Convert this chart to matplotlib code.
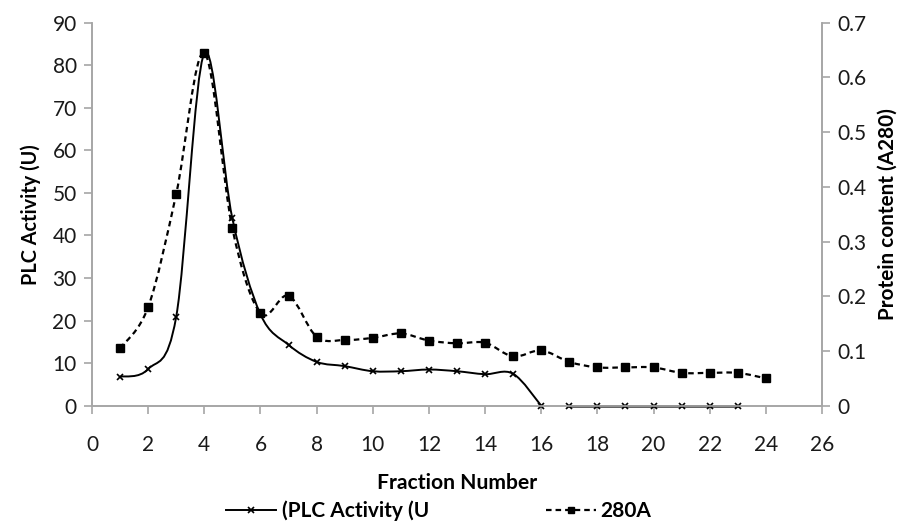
import matplotlib
matplotlib.use("agg")
import matplotlib.pyplot as plt
from matplotlib.path import Path
from matplotlib.patches import PathPatch
from matplotlib.lines import Line2D
import numpy as np

plt.rcParams['font.family'] = ['Lato', 'DejaVu Sans']

fractions = [1, 2, 3, 4, 5, 6, 7, 8, 9, 10, 11, 12, 13, 14, 15, 16, 17, 18, 19, 20, 21, 22, 23, 24]
plc_a = [6.8, 8.6, 20.9, 82.8, 44.0, 21.5, 14.3, 10.3, 9.3, 8.1, 8.1, 8.5, 8.1, 7.4, 7.5, 0.0]
plc_b = [0, 0, 0, 0, 0, 0, 0]
a280 = [0.105, 0.180, 0.387, 0.645, 0.324, 0.169, 0.201, 0.126, 0.120, 0.124, 0.132, 0.119,
        0.114, 0.115, 0.090, 0.101, 0.080, 0.070, 0.070, 0.070, 0.060, 0.060, 0.060, 0.050]

x_a = fractions[:16]
x_b = fractions[16:23]


def smooth_path(xs, ys):
    # Excel-like smoothed line: Catmull-Rom as cubic bezier segments
    p = np.column_stack([xs, ys]).astype(float)
    n = len(p)
    verts = [p[0]]
    codes = [Path.MOVETO]
    for i in range(n - 1):
        p0 = p[i - 1] if i > 0 else p[i]
        p3 = p[i + 2] if i + 2 < n else p[i + 1]
        c1 = p[i] + (p[i + 1] - p0) / 6
        c2 = p[i + 1] - (p3 - p[i]) / 6
        verts += [c1, c2, p[i + 1]]
        codes += [Path.CURVE4] * 3
    return Path(verts, codes)


fig = plt.figure(figsize=(9.07, 5.21), dpi=100)
ax = fig.add_axes([0.1014, 0.2213, 0.8049, 0.7352])
ax2 = ax.twinx()

grey = '#a6a6a6'
dash = (0, (2.5, 1.8))

ax.add_patch(PathPatch(smooth_path(x_a, plc_a), fill=False, edgecolor='black', lw=1.4,
                       clip_on=False, zorder=3))
ax.plot(x_a, plc_a, ls='none', marker='x', ms=5, mew=1.2, color='black', clip_on=False, zorder=4)
ax.plot(x_b, plc_b, color='#333333', lw=1.8, marker='x', ms=5, mew=1.2, mec='black',
        clip_on=False, zorder=4)

ax2.add_patch(PathPatch(smooth_path(fractions, a280), fill=False, edgecolor='black', lw=1.6,
                        linestyle=dash))
ax2.plot(fractions, a280, ls='none', marker='s', ms=6, color='black')

ax.set_xlim(0, 26)
ax.set_ylim(0, 90)
ax2.set_ylim(0, 0.7)
ax.set_xticks(range(0, 27, 2))
ax.set_yticks(range(0, 91, 10))
ax2.set_yticks(np.arange(0, 0.71, 0.1))
ax2.set_yticklabels(['0', '0.1', '0.2', '0.3', '0.4', '0.5', '0.6', '0.7'])

for a in (ax, ax2):
    a.spines['top'].set_visible(False)
    for s in ('left', 'right', 'bottom'):
        a.spines[s].set_color(grey)
        a.spines[s].set_linewidth(1.2)
    a.tick_params(colors=grey, labelcolor='#1a1a1a', labelsize=15, length=6, width=1.2, pad=5)
ax.tick_params(axis='x', pad=15)

xl = ax.set_xlabel('Fraction Number', fontsize=13, fontweight='bold', labelpad=13)
yl = ax.set_ylabel('PLC Activity (U)', fontsize=13, fontweight='bold', labelpad=8)
yr = ax2.set_ylabel('Protein content (A280)', fontsize=13, fontweight='bold', labelpad=8)

# scale label fonts to the text extents seen in the reference (px)
r = fig.canvas.get_renderer()
for t, target, vertical in ((xl, 160, False), (yl, 140, True), (yr, 212, True)):
    bb = t.get_window_extent(r)
    size = bb.height if vertical else bb.width
    t.set_fontsize(13 * target / size)

handles = [
    Line2D([], [], color='black', lw=1.4, marker='x', ms=5, mew=1.2),
    Line2D([], [], color='black', lw=1.6, ls=dash, marker='s', ms=5),
]
fig.legend(handles, ['(PLC Activity (U', '280A'], loc='center', bbox_to_anchor=(0.484, 0.02),
           ncol=2, frameon=False, prop={'weight': 'bold', 'size': 15},
           columnspacing=5.6, handlelength=2.4, handletextpad=0.25)

plt.savefig("out.png", dpi=100)
